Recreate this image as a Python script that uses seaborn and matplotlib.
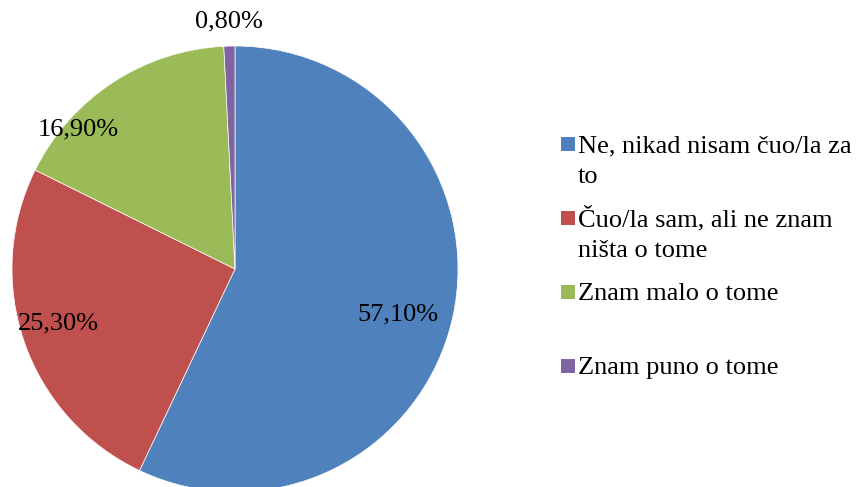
import matplotlib
matplotlib.use("Agg")
import matplotlib.pyplot as plt
import seaborn as sns
import numpy as np
from matplotlib.patches import Rectangle

sns.set_theme(style="white")
plt.rcParams['font.family'] = ['Liberation Serif', 'DejaVu Serif']

# Data
categories = ["Ne, nikad nisam čuo/la za\nto",
              "Čuo/la sam, ali ne znam\nništa o tome",
              "Znam malo o tome",
              "Znam puno o tome"]
values = [57.1, 25.3, 16.9, 0.8]
colors = sns.color_palette(["#4F81BD", "#C0504D", "#9BBB59", "#8064A2"])

# label placement: distance from centre and angle shift (deg) per wedge
label_radius = [0.76, 0.83, 0.94, 1.11]
label_shift = [-3, -2, 15, 0]

W, H = 860, 487
fig = plt.figure(figsize=(W / 100, H / 100), dpi=100)
cx, cy, r = 235, 269, 223
ax = fig.add_axes([(cx - r) / W, (H - cy - r) / H, 2 * r / W, 2 * r / H])

wedges, _ = ax.pie(values, colors=colors, startangle=90, counterclock=False,
                   wedgeprops=dict(edgecolor="white", linewidth=0.5))
ax.set_xlim(-1, 1)
ax.set_ylim(-1, 1)
ax.set_aspect("equal")
ax.axis("off")

for w, v, rad, sh in zip(wedges, values, label_radius, label_shift):
    ang = np.deg2rad((w.theta1 + w.theta2) / 2 + sh)
    ax.text(rad * np.cos(ang), rad * np.sin(ang),
            f"{v:.2f}%".replace(".", ","), fontsize=19,
            ha="center", va="center", color="black")

# Legend drawn by hand so the square sits on the first line
first_baselines = [152, 226, 300, 374]
line_gap = 31
for lab, col, base in zip(categories, colors, first_baselines):
    fig.patches.append(Rectangle((561 / W, (H - base + 1) / H), 14 / W, 14 / H,
                                 transform=fig.transFigure, facecolor=col,
                                 edgecolor="none"))
    for i, line in enumerate(lab.split("\n")):
        fig.text(578 / W, (H - base - i * line_gap) / H, line, fontsize=19,
                 ha="left", va="baseline", color="black")

fig.savefig("out.png", dpi=100)
